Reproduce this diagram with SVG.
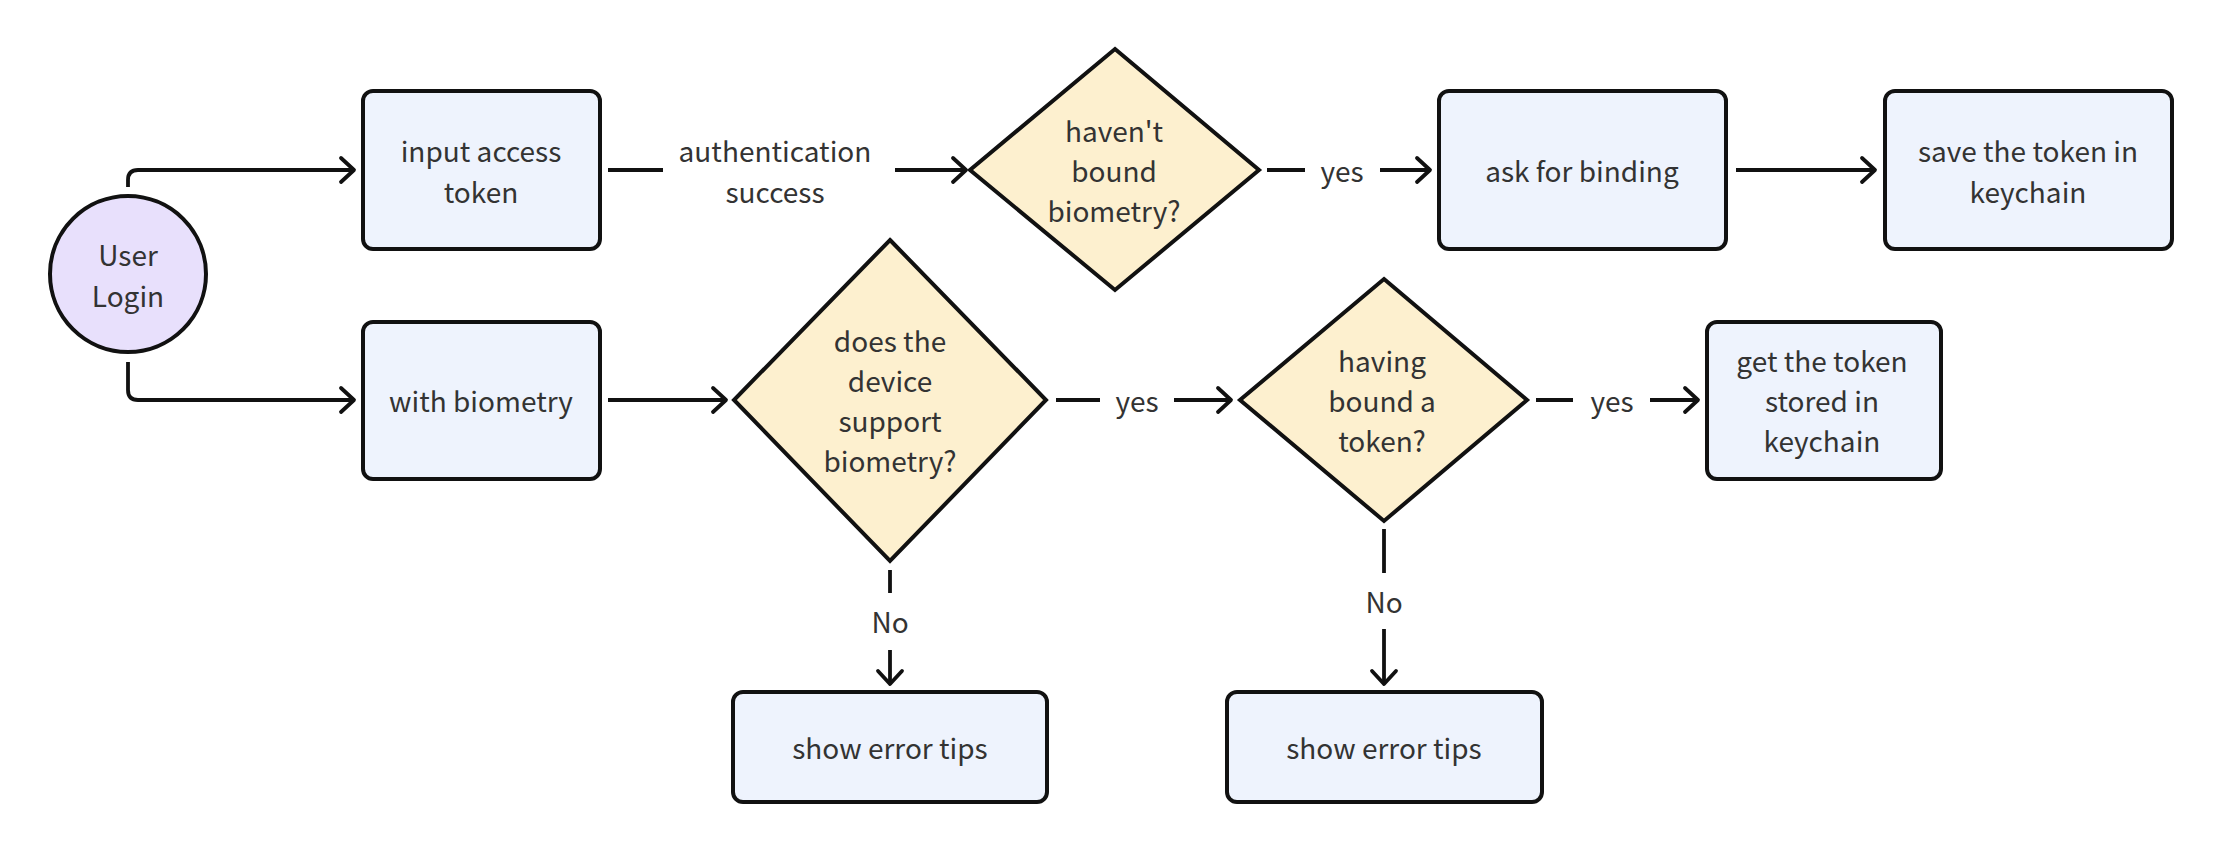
<svg xmlns="http://www.w3.org/2000/svg" width="2224" height="852" viewBox="0 0 2224 852">
<style>
.box{fill:#eef3fd;stroke:#111;stroke-width:4}
.dia{fill:#fdf0cf;stroke:#111;stroke-width:4;stroke-linejoin:miter}
.circ{fill:#e8e0fc;stroke:#111;stroke-width:4}
.t{font-family:"Noto Sans CJK SC","Source Sans Pro","Liberation Sans",sans-serif;font-size:28px;fill:#333;text-anchor:middle}
.c{fill:none;stroke:#111;stroke-width:3.8;stroke-linecap:butt;stroke-linejoin:round}
.ca{marker-end:url(#arr)}
</style>
<defs>
<marker id="arr" viewBox="-16 -16 20 32" refX="0" refY="0" markerWidth="20" markerHeight="32" markerUnits="userSpaceOnUse" orient="auto" overflow="visible">
<path d="M-13,-12 L0,0 L-13,12" fill="none" stroke="#111" stroke-width="3.8" stroke-linecap="round" stroke-linejoin="round"/>
</marker>
</defs>
<rect width="2224" height="852" fill="#fff"/>
<g id="connectors">
<path class="c ca" d="M128,187 V180 Q128,170 138,170 H354"/>
<path class="c ca" d="M128,362 V390 Q128,400 138,400 H354"/>
<path class="c" d="M608,170 H663"/>
<text class="t" x="775" y="162">authentication</text>
<text class="t" x="775" y="203">success</text>
<path class="c ca" d="M895,170 H966"/>
<path class="c" d="M1267,170 H1305"/>
<text class="t" x="1342" y="182">yes</text>
<path class="c ca" d="M1380,170 H1430"/>
<path class="c ca" d="M1736,170 H1875"/>
<path class="c ca" d="M608,400 H726"/>
<path class="c" d="M1056,400 H1100"/>
<text class="t" x="1137" y="412">yes</text>
<path class="c ca" d="M1174,400 H1231"/>
<path class="c" d="M1536,400 H1573"/>
<text class="t" x="1612" y="412">yes</text>
<path class="c ca" d="M1650,400 H1698"/>
<path class="c" d="M890,570 V593"/>
<text class="t" x="890" y="633">No</text>
<path class="c ca" d="M890,650 V684"/>
<path class="c" d="M1384,529 V573"/>
<text class="t" x="1384" y="613">No</text>
<path class="c ca" d="M1384,629 V684"/>
</g>
<g id="user-login">
<circle class="circ" cx="128" cy="274" r="78"/>
<text class="t" x="128" y="266">User</text>
<text class="t" x="128" y="307">Login</text>
</g>
<g id="input-access-token">
<rect class="box" x="363" y="91" width="237" height="158" rx="10"/>
<text class="t" x="481" y="162">input access</text>
<text class="t" x="481" y="203">token</text>
</g>
<g id="with-biometry">
<rect class="box" x="363" y="322" width="237" height="157" rx="10"/>
<text class="t" x="481" y="412">with biometry</text>
</g>
<g id="havent-bound">
<polygon class="dia" points="1115,49 1259,170 1115,290 970,170"/>
<text class="t" x="1114" y="142">haven't</text>
<text class="t" x="1114" y="182">bound</text>
<text class="t" x="1114" y="222">biometry?</text>
</g>
<g id="ask-for-binding">
<rect class="box" x="1439" y="91" width="287" height="158" rx="10"/>
<text class="t" x="1582" y="182">ask for binding</text>
</g>
<g id="save-token">
<rect class="box" x="1885" y="91" width="287" height="158" rx="10"/>
<text class="t" x="2028" y="162">save the token in</text>
<text class="t" x="2028" y="203">keychain</text>
</g>
<g id="device-support">
<polygon class="dia" points="890,240 1046,400 890,561 734,400"/>
<text class="t" x="890" y="352">does the</text>
<text class="t" x="890" y="392">device</text>
<text class="t" x="890" y="432">support</text>
<text class="t" x="890" y="472">biometry?</text>
</g>
<g id="having-bound">
<polygon class="dia" points="1384,279 1527,400 1384,521 1240,400"/>
<text class="t" x="1382" y="372">having</text>
<text class="t" x="1382" y="412">bound a</text>
<text class="t" x="1382" y="452">token?</text>
</g>
<g id="get-token">
<rect class="box" x="1707" y="322" width="234" height="157" rx="10"/>
<text class="t" x="1822" y="372">get the token</text>
<text class="t" x="1822" y="412">stored in</text>
<text class="t" x="1822" y="452">keychain</text>
</g>
<g id="error-tips-1">
<rect class="box" x="733" y="692" width="314" height="110" rx="10"/>
<text class="t" x="890" y="759">show error tips</text>
</g>
<g id="error-tips-2">
<rect class="box" x="1227" y="692" width="315" height="110" rx="10"/>
<text class="t" x="1384" y="759">show error tips</text>
</g>
</svg>
